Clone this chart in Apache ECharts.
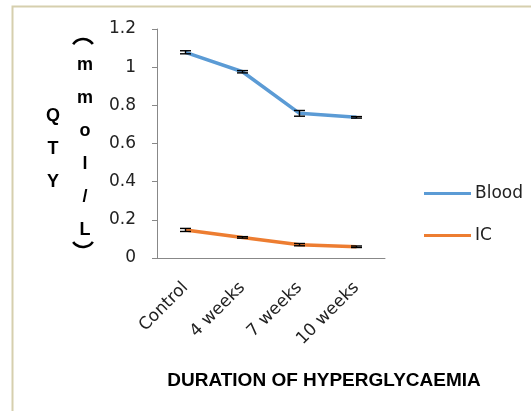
<!DOCTYPE html>
<html>
<head>
<meta charset="utf-8">
<script src="https://cdn.jsdelivr.net/npm/echarts@6/dist/echarts.min.js"></script>
<style>
	html, body { margin: 0; padding: 0; background: #fff; }
	#chart { width: 531px; height: 411px; }
</style>
</head>
<body>
<div id="chart"></div>
<script type="text/javascript">
	// data
	var categories = ['Control', '4 weeks', '7 weeks', '10 weeks'];
	var bloodValues = [1.078, 0.976, 0.758, 0.737];
	var bloodErrors = [0.008, 0.006, 0.015, 0.004];
	var icValues = [0.147, 0.108, 0.07, 0.059];
	var icErrors = [0.008, 0.004, 0.006, 0.004];
	var yTicks = [0, 0.2, 0.4, 0.6, 0.8, 1, 1.2];

	var font = 'DejaVu Sans';
	var boldFont = 'Liberation Sans';

	function errorSeries(name, values, errors) {
		var data = values.map(function (v, i) { return [i, v - errors[i], v + errors[i]]; });
		return {
			name: name + ' err',
			type: 'custom',
			z: 5,
			silent: true,
			data: data,
			renderItem: function (params, api) {
				var lo = api.coord([api.value(0), api.value(1)]);
				var hi = api.coord([api.value(0), api.value(2)]);
				var w = 5.5;
				var st = { stroke: '#000', lineWidth: 1.4 };
				return {
					type: 'group',
					children: [
						{ type: 'line', shape: { x1: lo[0], y1: lo[1], x2: hi[0], y2: hi[1] }, style: st },
						{ type: 'line', shape: { x1: lo[0] - w, y1: lo[1], x2: lo[0] + w, y2: lo[1] }, style: st },
						{ type: 'line', shape: { x1: hi[0] - w, y1: hi[1], x2: hi[0] + w, y2: hi[1] }, style: st }
					]
				};
			}
		};
	}

	// y-axis title letters, stacked like the original
	var unitLetters = ['m', 'm', 'o', 'l', '/', 'L'];
	var titleGraphics = [];
	['Q', 'T', 'Y'].forEach(function (c, i) {
		titleGraphics.push({
			type: 'text', x: 53, y: 116 + i * 33,
			style: { text: c, font: 'bold 18px ' + boldFont, fill: '#000', align: 'center', verticalAlign: 'middle' }
		});
	});
	unitLetters.forEach(function (c, i) {
		titleGraphics.push({
			type: 'text', x: 85, y: 65 + i * 33,
			style: { text: c, font: 'bold 18px ' + boldFont, fill: '#000', align: 'center', verticalAlign: 'middle' }
		});
	});
	// the turned brackets, drawn as arcs
	titleGraphics.push({
		type: 'arc', silent: true,
		shape: { cx: 83, cy: 51, r: 12, startAngle: 3.75, endAngle: 5.67, clockwise: true },
		style: { stroke: '#000', lineWidth: 2.6, fill: null }
	});
	titleGraphics.push({
		type: 'arc', silent: true,
		shape: { cx: 83, cy: 235, r: 12, startAngle: 0.61, endAngle: 2.53, clockwise: true },
		style: { stroke: '#000', lineWidth: 2.6, fill: null }
	});
	// the beige frame
	titleGraphics.push({
		type: 'polyline', silent: true,
		shape: { points: [[12.5, 411], [12.5, 6.5], [531, 6.5]] },
		style: { stroke: '#d6cfae', lineWidth: 2, fill: null }
	});

	var chart = echarts.init(document.getElementById('chart'));
	chart.setOption({
		animation: false,
		textStyle: { fontFamily: font },
		grid: { left: 157, right: 146, top: 29, bottom: 153, containLabel: false },
		legend: {
			orient: 'vertical',
			left: 419,
			top: 180,
			itemGap: 25,
			itemWidth: 47,
			itemHeight: 3,
			icon: 'rect',
			data: ['Blood', 'IC'],
			textStyle: { fontSize: 17, color: '#222', fontFamily: font, padding: [0, 0, 0, -1] }
		},
		xAxis: {
			type: 'category',
			data: categories,
			name: 'DURATION OF HYPERGLYCAEMIA',
			nameLocation: 'middle',
			nameGap: 113,
			nameTextStyle: { fontSize: 19, fontWeight: 'bold', color: '#000', fontFamily: boldFont, padding: [0, 0, 0, 106] },
			axisLine: { lineStyle: { color: '#888' } },
			axisTick: { length: 5, lineStyle: { color: '#888' } },
			axisLabel: { rotate: 45, fontSize: 17, color: '#222', margin: 27 }
		},
		yAxis: {
			type: 'value',
			min: yTicks[0],
			max: yTicks[yTicks.length - 1],
			interval: 0.2,
			splitLine: { show: false },
			axisLine: { show: true, lineStyle: { color: '#888' } },
			axisTick: { show: true, length: 5, lineStyle: { color: '#888' } },
			axisLabel: { fontSize: 17, color: '#222', margin: 21 }
		},
		graphic: titleGraphics,
		series: [
			{
				name: 'Blood', type: 'line', data: bloodValues,
				symbol: 'none', lineStyle: { width: 3.5, color: '#5b9bd5' }, itemStyle: { color: '#5b9bd5' }
			},
			{
				name: 'IC', type: 'line', data: icValues,
				symbol: 'none', lineStyle: { width: 3.5, color: '#ed7d31' }, itemStyle: { color: '#ed7d31' }
			},
			errorSeries('Blood', bloodValues, bloodErrors),
			errorSeries('IC', icValues, icErrors)
		]
	});
</script>
</body>
</html>
